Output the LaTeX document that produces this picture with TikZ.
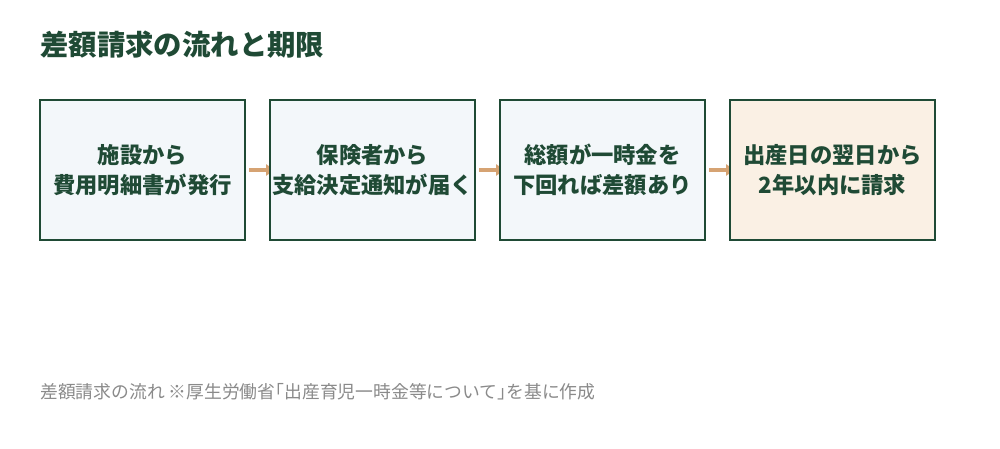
\documentclass[tikz,border=0pt]{standalone}
\usepackage{fontspec}
\setmainfont{Noto Sans CJK JP}
\usetikzlibrary{arrows.meta,backgrounds}
\definecolor{dkgreen}{HTML}{1F4A35}
\definecolor{boxfill}{HTML}{F3F7FA}
\definecolor{lastfill}{HTML}{FAF0E4}
\definecolor{arrowtan}{HTML}{D6A373}
\definecolor{notegray}{HTML}{8A8A8A}
\tikzset{
  stepbox/.style={draw=dkgreen, line width=2pt, fill=boxfill, minimum width=205pt, minimum height=140pt,
    inner sep=0pt, text=dkgreen, font=\fontsize{22.3pt}{30pt}\selectfont\bfseries, align=center},
  lastbox/.style={stepbox, fill=lastfill},
  flowarrow/.style={draw=arrowtan, line width=3.8pt, -{Triangle[length=9pt,width=11pt]}},
  titletext/.style={anchor=west, text=dkgreen, font=\fontsize{28.4pt}{30pt}\selectfont\bfseries, inner sep=0pt},
  notetext/.style={anchor=west, text=notegray, font=\fontsize{17.8pt}{20pt}\selectfont, inner sep=0pt}
}
\begin{document}
\begin{tikzpicture}[x=1pt,y=-1pt]
\useasboundingbox (0,0) rectangle (1000,448);
\begin{scope}[on background layer]
\fill[white] (0,0) rectangle (1000,448);
\end{scope}
\node[titletext] (title) at (40,45) {差額請求の流れと期限};
\node[stepbox] (s1) at (142.5,170) {施設から\\費用明細書が発行};
\node[stepbox] (s2) at (372.5,170) {保険者から\\支給決定通知が届く};
\node[stepbox] (s3) at (602.5,170) {総額が一時金を\\下回れば差額あり};
\node[lastbox] (s4) at (832.5,170) {出産日の翌日から\\2年以内に請求};
\begin{scope}[on background layer]
\draw[flowarrow] ([xshift=3pt]s1.east) -- ([xshift=6pt]s2.west);
\draw[flowarrow] ([xshift=3pt]s2.east) -- ([xshift=6pt]s3.west);
\draw[flowarrow] ([xshift=3pt]s3.east) -- ([xshift=6pt]s4.west);
\end{scope}
\node[notetext] (note) at (40,392) {差額請求の流れ ※厚生労働省｢出産育児一時金等について｣を基に作成};
\end{tikzpicture}
\end{document}
